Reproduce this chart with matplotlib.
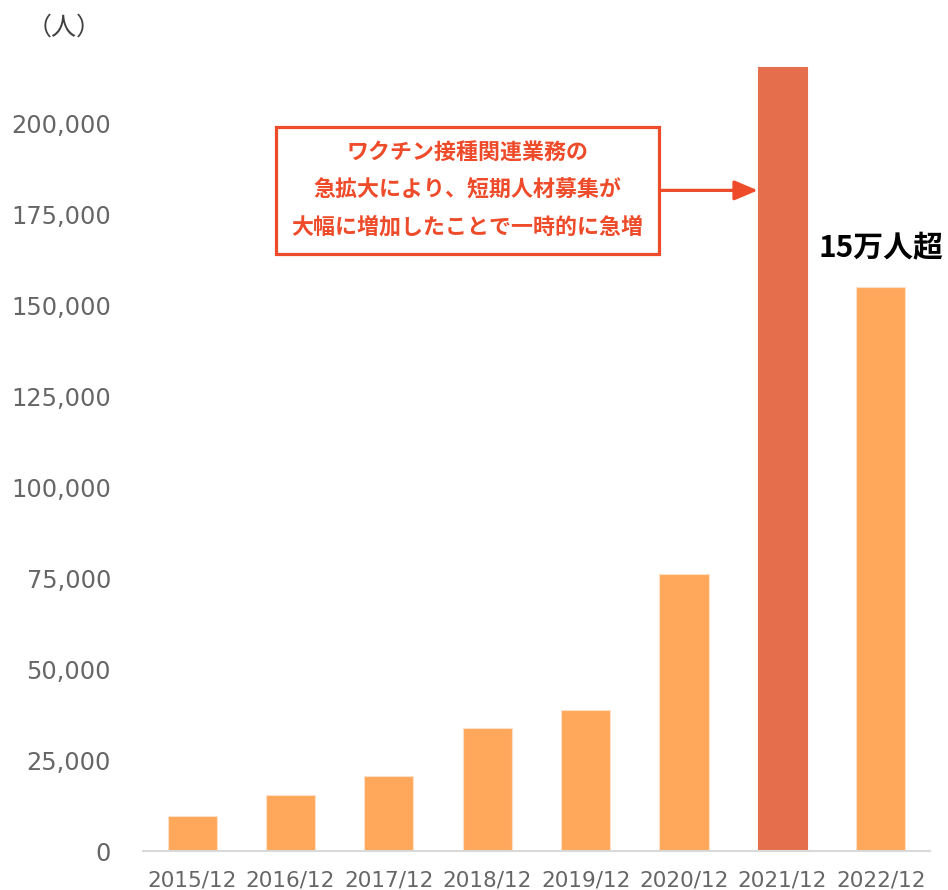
import matplotlib
matplotlib.use("Agg")
import matplotlib.pyplot as plt
from matplotlib.ticker import FuncFormatter, MultipleLocator

plt.rcParams['font.family'] = ['DejaVu Sans', 'Noto Sans CJK JP']

categories = ["2015/12", "2016/12", "2017/12", "2018/12", "2019/12", "2020/12", "2021/12", "2022/12"]
values = [9600, 15400, 20600, 33800, 38700, 76100, 215400, 155000]
highlight = "2021/12"
unit_label = "（人）"
note_text = "ワクチン接種関連業務の\n急拡大により、短期人材募集が\n大幅に増加したことで一時的に急増"
note_label = "15万人超"

base_color = "#FFA85C"
hi_color = "#E56E4D"
red = "#EE4B2B"

fig = plt.figure(figsize=(9.48, 8.9), dpi=100)
ax = fig.add_axes([0.1508, 0.0438, 0.8302, 0.9202])

x = list(range(len(categories)))
colors = [hi_color if c == highlight else base_color for c in categories]
bars = ax.bar(x, values, width=0.5, color=colors,
              edgecolor=["#FFE0C6" if c != highlight else hi_color for c in categories],
              linewidth=0.8, zorder=2)

ax.set_xlim(-0.5, len(categories) - 0.5)
ax.set_ylim(0, 225000)
ax.yaxis.set_major_locator(MultipleLocator(25000))
ax.yaxis.set_major_formatter(FuncFormatter(lambda v, p: f"{int(v):,}" if v <= 200000 else ""))
ax.set_xticks(x)
ax.set_xticklabels(categories)

for s in ["top", "right", "left"]:
    ax.spines[s].set_visible(False)
ax.spines["bottom"].set_color("#D9D9D9")
ax.spines["bottom"].set_linewidth(1.5)
ax.spines["bottom"].set_zorder(3)
ax.tick_params(axis="both", length=0, colors="#666666")
ax.tick_params(axis="y", pad=23, labelsize=17.3)
ax.tick_params(axis="x", pad=14, labelsize=15.5)

fig.text(0.068, 0.969, unit_label, fontsize=18, color="#404040", ha="center", va="center",
         family=["Noto Sans CJK JP", "DejaVu Sans"])

# annotation box with arrow to highlighted bar
hi_idx = categories.index(highlight)
box_x, box_y = 2.8, 181500
ax.annotate(note_text, xy=(hi_idx - 0.25, box_y), xytext=(box_x, box_y),
            ha="center", va="center", fontsize=15.8, fontweight="bold", color=red,
            family=["Noto Sans CJK JP", "DejaVu Sans"], linespacing=1.76,
            bbox=dict(boxstyle="square,pad=0.7", fc="white", ec=red, lw=2.3),
            arrowprops=dict(arrowstyle="-|>,head_length=0.9,head_width=0.38", color=red, lw=2.3,
                            shrinkA=0, shrinkB=0),
            zorder=5)

ax.text(len(categories) - 1, 165500, note_label, ha="center", va="center", fontsize=21.5,
        fontweight="bold", color="#000000", family=["Noto Sans CJK JP", "DejaVu Sans"])

fig.savefig("out.png", dpi=100)
